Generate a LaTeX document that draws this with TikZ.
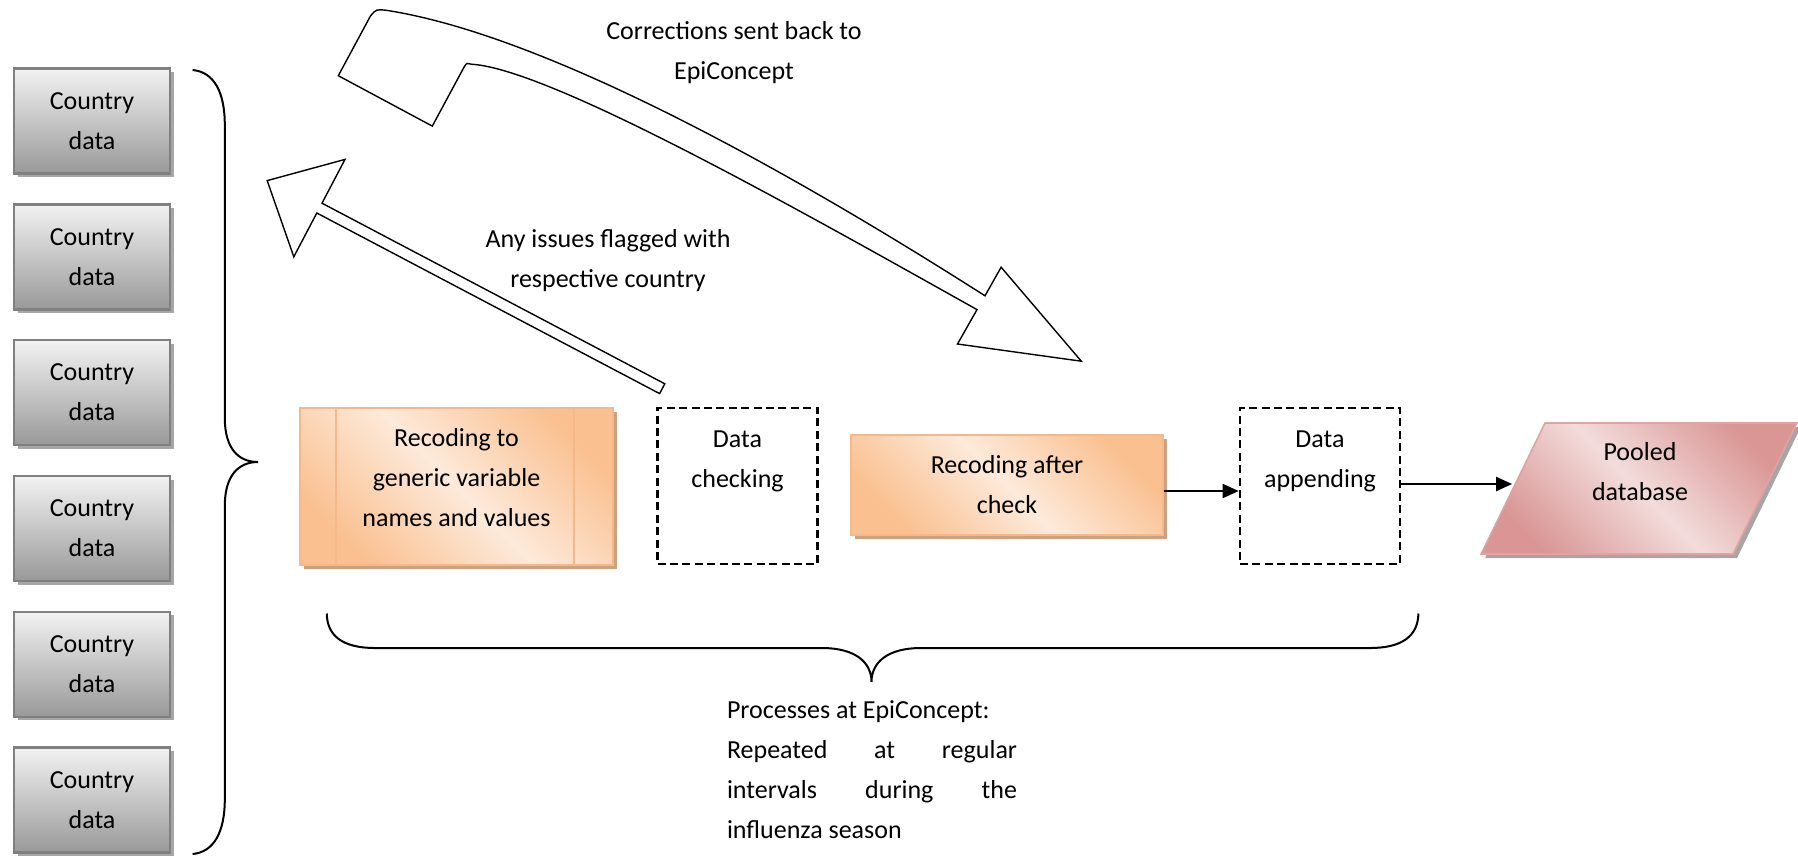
\documentclass[tikz,border=0pt]{standalone}
\usepackage{fontspec}
\setmainfont{Carlito}
\usetikzlibrary{shapes.geometric,shadows,arrows.meta}

\definecolor{greyline}{HTML}{808080}
\definecolor{greyshadow}{HTML}{A6A6A6}
\definecolor{orangedark}{HTML}{FAC090}
\definecolor{orangelight}{HTML}{FDEADA}
\definecolor{orangeline}{HTML}{F6B889}
\definecolor{orangeshadow}{HTML}{C9A282}
\definecolor{pinkdark}{HTML}{D99694}
\definecolor{pinklight}{HTML}{F2DCDB}
\definecolor{pinkline}{HTML}{E0A3A1}

\tikzset{
  countrybox/.style={draw=greyline, line width=1.2pt, align=center,
    top color=white!95!black, bottom color=black!40,
    minimum width=78pt, minimum height=52.5pt,
    drop shadow={shadow xshift=1.8pt, shadow yshift=-1.8pt, fill=greyshadow, opacity=1}},
  recodebox/.style={draw=orangeline, line width=0.8pt, align=center,
    left color=orangedark, right color=orangedark, middle color=orangelight, shading angle=135,
    drop shadow={shadow xshift=2pt, shadow yshift=-2pt, fill=orangeshadow, opacity=1}},
  checkbox/.style={draw, line width=1.3pt, dash pattern=on 4pt off 2.2pt,
    minimum width=80pt, minimum height=78pt},
  poolbox/.style={trapezium, trapezium left angle=64, trapezium right angle=116,
    inner xsep=47pt, inner ysep=32.75pt, draw=pinkline, line width=0.8pt,
    left color=pinkdark, right color=pinkdark, middle color=pinklight, shading angle=135,
    drop shadow={shadow xshift=2pt, shadow yshift=-2pt, fill=greyshadow, opacity=1}},
  boxtext/.style={align=center, inner sep=0pt},
  blockarrow/.style={draw, line width=0.7pt, fill=white, line join=miter},
  curly/.style={draw, line width=1pt}
}

\begin{document}
\begin{tikzpicture}[x=0.5pt,y=-0.5pt,font=\fontsize{13}{20}\selectfont,
    >={Triangle[length=8pt,width=7pt]}]
  \useasboundingbox (0,0) rectangle (1798,858);

  % Country data column
  \foreach \i in {1,...,6}
    \node[countrybox] (country\i) at (92,{121+135.8*(\i-1)}) {Country\\data};

  % Brace joining the countries
  \draw[curly] (192.6,70) .. controls (214,72) and (224.8,92) .. (224.8,125)
    -- (224.8,418) .. controls (224.8,448) and (238,462) .. (258,462)
    .. controls (238,462) and (224.8,476) .. (224.8,506)
    -- (224.8,799) .. controls (224.8,832) and (214,852) .. (192.6,854);

  % Processing steps
  \node[recodebox, minimum width=156.5pt, minimum height=78.5pt] (recode) at (456.5,486.5) {};
  \draw[orangeline, line width=0.8pt]
    ([xshift=18.5pt]recode.north west) -- ([xshift=18.5pt]recode.south west)
    ([xshift=-20pt]recode.north east) -- ([xshift=-20pt]recode.south east);
  \node[boxtext] (recodetext) at (456.5,478) {Recoding to\\generic variable\\names and values};

  \node[checkbox] (check) at (737.5,486) {};
  \node[boxtext] (checktext) at (737.5,461) {Data\\checking};

  \node[recodebox, minimum width=156pt, minimum height=50pt] (recheck) at (1007,485) {Recoding after\\check};

  \node[checkbox] (append) at (1320,486) {};
  \node[boxtext] (appendtext) at (1320,461) {Data\\appending};

  \node[poolbox] (pool) at (1639,488.5) {};
  \node[boxtext] (pooltext) at (1640,472) {Pooled\\database};

  % Flow arrows
  \draw[->, line width=1pt] ([yshift=-3pt]recheck.east) -- ([yshift=-3pt]recheck.east -| append.west);
  \draw[->, line width=1pt] ([yshift=1pt]append.east) -- ([yshift=1pt]append.east -| pool.west);

  % Feedback block arrows
  \draw[blockarrow] (664.8,383.8) -- (322.0,203.2) -- (345.0,159.4) -- (267.2,180.6)
    -- (293.8,256.8) -- (316.8,213.0) -- (659.6,393.6) -- cycle;
  \node[boxtext] (issues) at (608,261) {Any issues flagged with\\respective country};

  \draw[blockarrow] (338.3,75.7) -- (370.4,16.1) .. controls (376.1,9.2) .. (386.4,10.3)
    .. controls (556.2,36.7) and (814.2,186.9) .. (985.0,295.8)
    -- (1001.1,267.2) -- (1081.3,361.2) -- (957.5,344.0) -- (977.0,309.6)
    .. controls (802.7,212.1) and (550.4,68.8) .. (471.3,64.2)
    .. controls (466.7,63.1) .. (464.4,66.5) -- (432.3,126.1) -- cycle;
  \node[boxtext] (corrections) at (734,53) {Corrections sent back to\\EpiConcept};

  % Brace under the EpiConcept steps
  \draw[curly] (326.8,613.5) .. controls (327,636) and (343,648) .. (375,648)
    -- (822,648) .. controls (855,648) and (871.5,662) .. (871.5,682)
    .. controls (871.5,662) and (888,648) .. (921,648)
    -- (1370,648) .. controls (1402,648) and (1418,636) .. (1418.4,613.5);

  \node[boxtext, text width=145pt, align=flush left] (repeated) at (872,770)
    {Processes at EpiConcept:\\
     Repeated\hfill at\hfill regular\\
     intervals\hfill during\hfill the\\
     influenza season};
\end{tikzpicture}
\end{document}
